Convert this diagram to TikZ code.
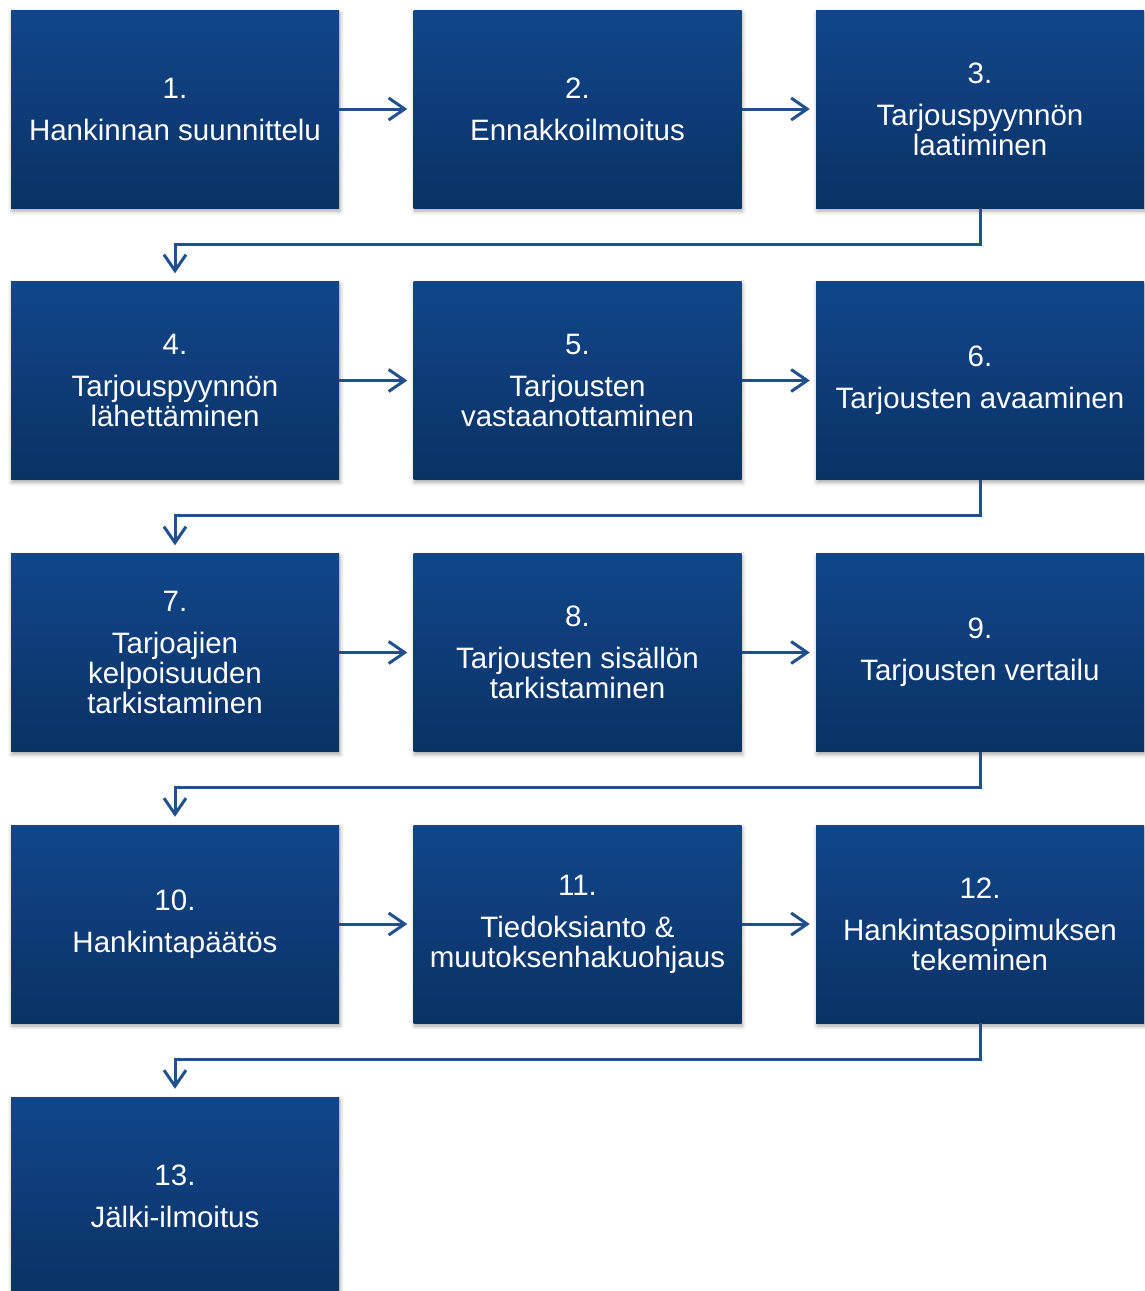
\documentclass[tikz,border=0pt]{standalone}
\usepackage{fontspec}
\setmainfont{Liberation Sans}
\usetikzlibrary{arrows.meta}
\usetikzlibrary{shadows.blur}
\definecolor{boxtop}{HTML}{11468A}
\definecolor{boxbot}{HTML}{0A3265}
\definecolor{linkcol}{HTML}{21508F}
\tikzstyle{phase}=[rectangle, inner sep=0pt, minimum width=328pt, minimum height=198pt, top color=boxtop, bottom color=boxbot, text=white, align=center, font=\fontsize{29.5}{30}\selectfont, blur shadow={shadow xshift=1pt, shadow yshift=-3pt, shadow blur radius=4pt, shadow opacity=35}]
\tikzstyle{link}=[draw=linkcol, line width=3pt, -{Straight Barb[length=16pt, width=22pt]}]
\tikzstyle{hlink}=[link, shorten >=6pt]
\tikzstyle{vlink}=[link, shorten >=8pt]

\begin{document}
\begin{tikzpicture}[x=1pt, y=-1pt]
        \useasboundingbox (0, 0) rectangle (1144, 1291);
        \node[phase] (P1) at (175, 109) {1.\\[12pt]Hankinnan suunnittelu};
        \node[phase] (P2) at (577.5, 109) {2.\\[12pt]Ennakkoilmoitus};
        \node[phase] (P3) at (980, 109) {3.\\[12pt]Tarjouspyynnön\\laatiminen};
        \node[phase] (P4) at (175, 380.5) {4.\\[12pt]Tarjouspyynnön\\lähettäminen};
        \node[phase] (P5) at (577.5, 380.5) {5.\\[12pt]Tarjousten\\vastaanottaminen};
        \node[phase] (P6) at (980, 380.5) {6.\\[12pt]Tarjousten avaaminen};
        \node[phase] (P7) at (175, 652.5) {7.\\[12pt]Tarjoajien\\kelpoisuuden\\tarkistaminen};
        \node[phase] (P8) at (577.5, 652.5) {8.\\[12pt]Tarjousten sisällön\\tarkistaminen};
        \node[phase] (P9) at (980, 652.5) {9.\\[12pt]Tarjousten vertailu};
        \node[phase] (P10) at (175, 924) {10.\\[12pt]Hankintapäätös};
        \node[phase] (P11) at (577.5, 924) {11.\\[12pt]Tiedoksianto \&\\muutoksenhakuohjaus};
        \node[phase] (P12) at (980, 924) {12.\\[12pt]Hankintasopimuksen\\tekeminen};
        \node[phase] (P13) at (175, 1196) {13.\\[12pt]Jälki-ilmoitus};
        \draw[hlink] (P1) -- (P2);
        \draw[hlink] (P2) -- (P3);
        \draw[hlink] (P4) -- (P5);
        \draw[hlink] (P5) -- (P6);
        \draw[hlink] (P7) -- (P8);
        \draw[hlink] (P8) -- (P9);
        \draw[hlink] (P10) -- (P11);
        \draw[hlink] (P11) -- (P12);
        \draw[vlink] (P3.south) -- ++(0, 36) -| (P4.north);
        \draw[vlink] (P6.south) -- ++(0, 36) -| (P7.north);
        \draw[vlink] (P9.south) -- ++(0, 36) -| (P10.north);
        \draw[vlink] (P12.south) -- ++(0, 36) -| (P13.north);
    \end{tikzpicture}
\end{document}
